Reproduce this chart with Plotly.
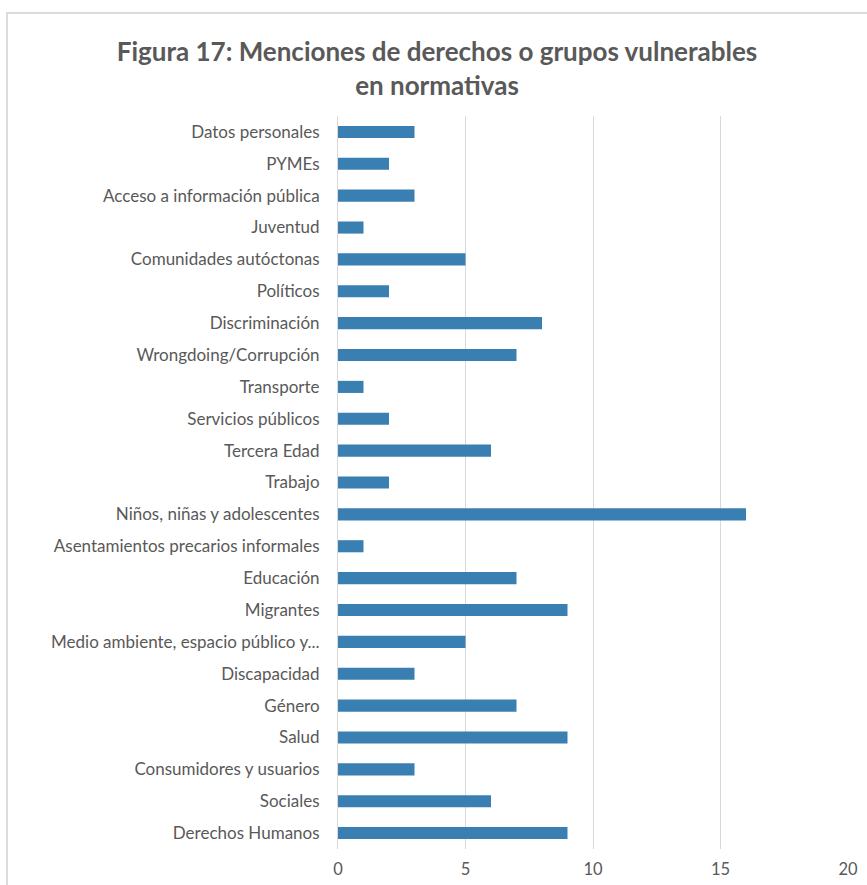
import plotly.graph_objects as go

# Categories listed top to bottom as they appear on the chart
categories = [
    "Datos personales",
    "PYMEs",
    "Acceso a información pública",
    "Juventud",
    "Comunidades autóctonas",
    "Políticos",
    "Discriminación",
    "Wrongdoing/Corrupción",
    "Transporte",
    "Servicios públicos",
    "Tercera Edad",
    "Trabajo",
    "Niños, niñas y adolescentes",
    "Asentamientos precarios informales",
    "Educación",
    "Migrantes",
    "Medio ambiente, espacio público y...",
    "Discapacidad",
    "Género",
    "Salud",
    "Consumidores y usuarios",
    "Sociales",
    "Derechos Humanos",
]
menciones = [3, 2, 3, 1, 5, 2, 8, 7, 1, 2, 6, 2, 16, 1, 7, 9, 5, 3, 7, 9, 3, 6, 9]

x_ticks = [0, 5, 10, 15, 20]

W, H = 867, 885
ML, MR, MT, MB = 338, 19, 116, 36
pw = W - ML - MR
ph = H - MT - MB

text_color = "#595959"
font_family = "Lato, 'Open Sans', sans-serif"

fig = go.Figure(
    go.Bar(
        x=menciones,
        y=categories,
        orientation="h",
        width=0.38,
        marker=dict(color="#3a7fb1", line=dict(width=0)),
    )
)

# outer frame of the chart area
fig.add_shape(
    type="rect",
    xref="paper", yref="paper",
    x0=(7 - ML) / pw, x1=(W + 10 - ML) / pw,
    y0=-(MB + 10) / ph, y1=1 + (MT - 13) / ph,
    line=dict(color="#dedad6", width=2),
    layer="below",
)

fig.update_layout(
    width=W,
    height=H,
    margin=dict(l=ML, r=MR, t=MT, b=MB, autoexpand=False),
    paper_bgcolor="white",
    plot_bgcolor="white",
    showlegend=False,
    bargap=0.62,
    title=dict(
        text="<b>Figura 17: Menciones de derechos o grupos vulnerables<br>en normativas</b>",
        x=437 / W,
        xref="container",
        xanchor="center",
        y=1 - 61 / H,
        yref="container",
        yanchor="top",
        font=dict(family=font_family, size=26, color=text_color),
    ),
    font=dict(family=font_family, color=text_color),
    xaxis=dict(
        range=[0, 20],
        tickvals=x_ticks,
        showgrid=True,
        gridcolor="#d9d9d9",
        gridwidth=1,
        zeroline=False,
        showline=False,
        tickfont=dict(size=16.5, color=text_color),
        ticks="",
        ticklabelstandoff=8,
        automargin=False,
        fixedrange=True,
    ),
    yaxis=dict(
        categoryorder="array",
        categoryarray=categories,
        autorange="reversed",
        showgrid=False,
        showline=True,
        linecolor="#d9d9d9",
        linewidth=1,
        ticks="",
        ticklabelstandoff=14,
        automargin=False,
        tickfont=dict(size=17, color=text_color),
    ),
)

fig.write_html("out.html")
